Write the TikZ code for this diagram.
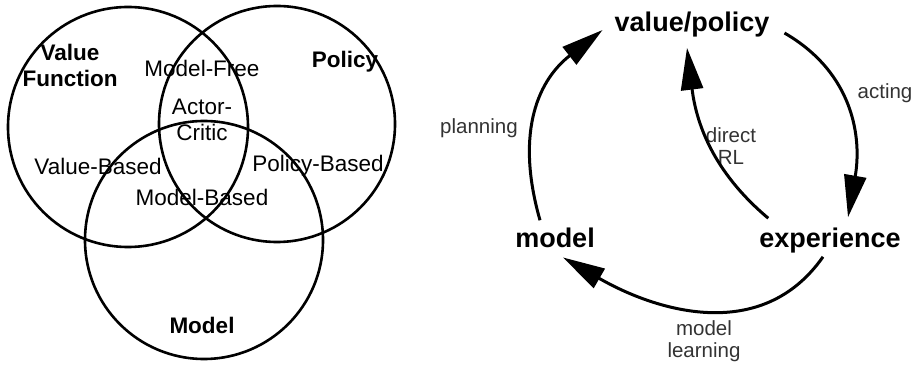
\documentclass[tikz,border=0pt]{standalone}
\usepackage{fontspec}
\setmainfont{Liberation Sans}
\usetikzlibrary{arrows.meta}

\tikzset{
  venn/.style={shape=circle, draw, line width=2.6pt},
  vtext/.style={font=\fontsize{22.5}{26}\selectfont, align=center, inner sep=0pt},
  vhead/.style={vtext, font=\fontsize{22.5}{26}\selectfont\bfseries},
  cyc/.style={font=\fontsize{27}{30}\selectfont\bfseries, inner sep=0pt, anchor=base},
  lbl/.style={font=\fontsize{20.5}{22}\selectfont, align=center, inner sep=0pt, text=black!80},
  flow/.style={line width=3pt, -{Triangle[length=42pt,width=22pt]}}
}

\begin{document}
\begin{tikzpicture}[x=1pt, y=1pt]

  \useasboundingbox (0,0) rectangle (918,364);

  % venn part
  \node (vfc) at (128,237) [venn, minimum size=240pt] {};
  \node (pol) at (277,240) [venn, minimum size=236pt] {};
  \node (mod) at (204,124) [venn, minimum size=238pt] {};

  \node (vfl) at (70,299) [vhead] {Value\\Function};
  \node (pol1) at (345,302) [vhead] {Policy};
  \node (modl) at (202,39) [vhead] {Model};
  \node (mfree) at (202,296) [vtext] {Model-Free};
  \node (ac) at (202,244) [vtext] {Actor-\\Critic};
  \node (vbased) at (98,198) [vtext] {Value-Based};
  \node (pbased) at (318,198) [vtext] {Policy-Based};
  \node (mbased) at (202,167) [vtext] {Model-Based};

  % cycle part
  \node (vp) at (692,332) [cyc] {value/policy};
  \node (model) at (555,116) [cyc] {model};
  \node (exp) at (830,116) [cyc] {experience};

  \node (acting) at (885,271) [lbl] {acting};
  \node (planning) at (479,236) [lbl] {planning};
  \node (direct) at (731,218) [lbl] {direct\\RL};
  \node (learn) at (704,23) [lbl] {model\\learning};

  \draw [flow] ([xshift=-15pt,yshift=8pt]model.north) to [out=106, in=218, looseness=1.1] ([xshift=-12pt,yshift=-5pt]vp.west);
  \draw [flow] ([xshift=15pt,yshift=-8pt]vp.east) to [out=-30, in=80, looseness=1.05] ([xshift=18pt,yshift=11pt]exp.north);
  \draw [flow] ([xshift=9pt,yshift=10pt]exp.north west) to [out=140, in=-83] ([xshift=-5pt,yshift=-10pt]vp.south);
  \draw [flow] ([xshift=-7pt,yshift=-3pt]exp.south) to [out=-125, in=-30, looseness=1.05] ([xshift=8pt,yshift=-9pt]model.south);

\end{tikzpicture}
\end{document}
